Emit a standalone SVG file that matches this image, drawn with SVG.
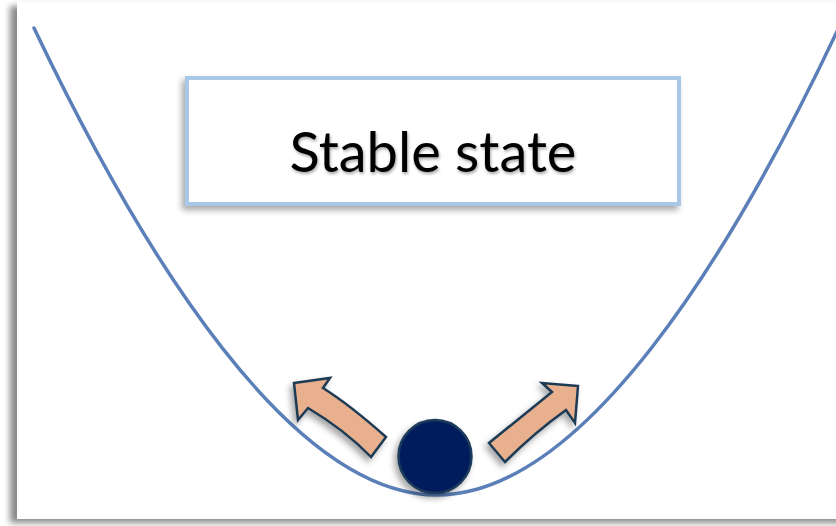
<svg xmlns="http://www.w3.org/2000/svg" width="836" height="526" viewBox="0 0 836 526">
<defs>
<filter id="pageShadow" x="-5%" y="-5%" width="110%" height="110%"><feGaussianBlur stdDeviation="3"/></filter>
<filter id="sh" x="-20%" y="-20%" width="140%" height="140%"><feDropShadow dx="-3" dy="4" stdDeviation="3" flood-color="#000" flood-opacity="0.35"/></filter>
<filter id="tsh" x="-10%" y="-10%" width="120%" height="130%"><feDropShadow dx="1" dy="2" stdDeviation="1.5" flood-color="#000" flood-opacity="0.35"/></filter>
<style>
.curve{fill:none;stroke:#5b7fb8;stroke-width:3.5;stroke-linecap:round}
.arrow{fill:#e8b08c;stroke:#1f3a55;stroke-width:2.5;stroke-linejoin:miter}
.label{font-family:"Lato","Open Sans",sans-serif;font-size:56px;fill:#000}
</style>
</defs>
<rect width="836" height="526" fill="#ffffff"/>
<rect x="10" y="6" width="840" height="517" fill="#8a8a8a" filter="url(#pageShadow)"/>
<rect x="17" y="2" width="830" height="517" fill="#ffffff"/>
<g id="connectors">
<path class="curve" d="M34,28 C144,259 292,495 437,495 C582,495 730,259 840,25"/>
</g>
<g id="label-box">
<rect x="187" y="78" width="492" height="126" fill="#ffffff" stroke="#a9c8e8" stroke-width="4" filter="url(#sh)"/>
<text class="label" x="433" y="172" text-anchor="middle" filter="url(#tsh)">Stable state</text>
</g>
<g id="ball">
<circle cx="435" cy="456.5" r="36.5" fill="#001f5c" stroke="#1f3a5a" stroke-width="2.5" filter="url(#sh)"/>
</g>
<g id="arrow-left">
<path class="arrow" filter="url(#sh)" d="M294,383 L330,378 L323,388 Q350,405 386,437 L371,457 Q345,430 308,408 L298,420 Z"/>
</g>
<g id="arrow-right">
<path class="arrow" filter="url(#sh)" d="M578,386 L542,383 L552,392 Q520,418 489,443 L505,462 Q535,432 566,410 L575,423 Z"/>
</g>
</svg>
